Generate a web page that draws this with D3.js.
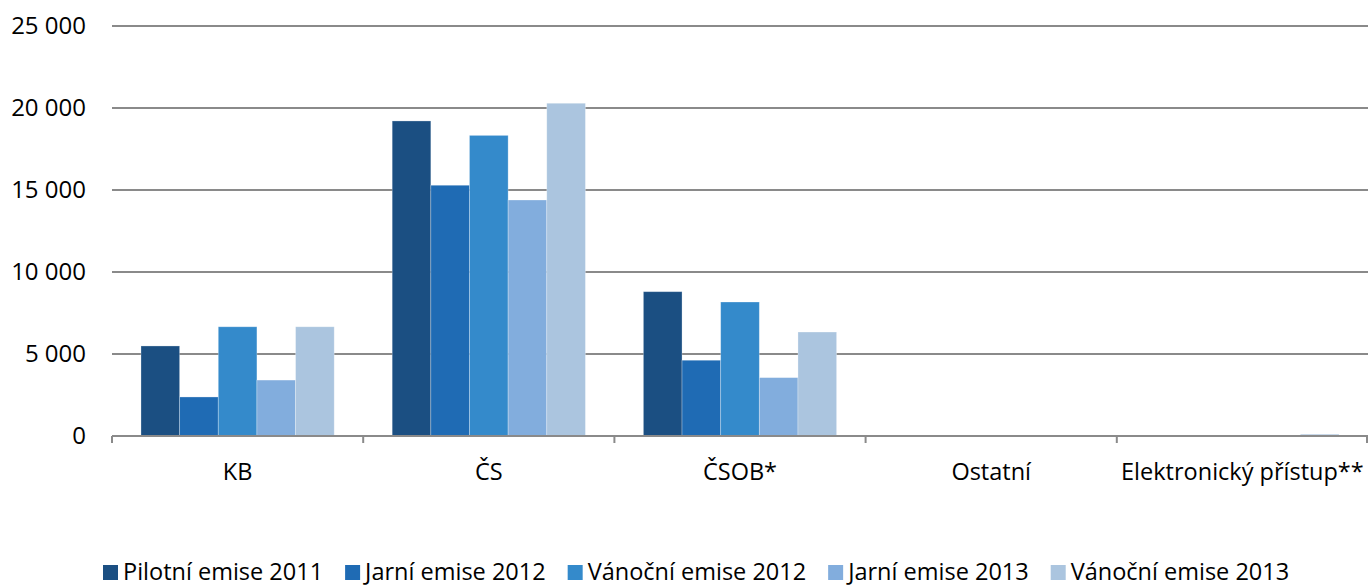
<!DOCTYPE html>
<html><head><meta charset="utf-8">
<script src="https://cdn.jsdelivr.net/npm/d3@7"></script>
<style>
body{margin:0;background:#fff;}
svg{display:block;font-family:"Open Sans",sans-serif;}
</style></head>
<body><svg id="c" width="1368" height="587"></svg>
<script>
const categories = ["KB","ČS","ČSOB*","Ostatní","Elektronický přístup**"];
const seriesNames = ["Pilotní emise 2011","Jarní emise 2012","Vánoční emise 2012","Jarní emise 2013","Vánoční emise 2013"];
const colors = ["#1B4F82","#1F6BB4","#348ACB","#82ADDD","#ABC5DF"];
const pilotni2011 = [5490, 19210, 8800, 5, 5];
const jarni2012   = [2380, 15290, 4620, 30, 5];
const vanocni2012 = [6660, 18330, 8170, 30, 5];
const jarni2013   = [3410, 14390, 3560, 5, 5];
const vanocni2013 = [6660, 20290, 6340, 5, 110];
const yTicks = [0, 5000, 10000, 15000, 20000, 25000];
const yTickLabels = ["0","5 000","10 000","15 000","20 000","25 000"];

const series = [pilotni2011, jarni2012, vanocni2012, jarni2013, vanocni2013];
const svg = d3.select("#c");
const L = 112, R = 1368, T = 26, B = 436;
const x0 = d3.scaleBand().domain(categories).range([L, R]).padding(0);
const x1 = d3.scaleBand().domain(seriesNames).range([0, x0.bandwidth()]).paddingOuter(0.75).paddingInner(0);
const y = d3.scaleLinear().domain([0, 25000]).range([B, T]);

svg.append("g").selectAll("line").data(yTicks.slice(1)).join("line")
  .attr("x1", L).attr("x2", R).attr("y1", d => y(d)).attr("y2", d => y(d))
  .attr("stroke", "#8a8a8a").attr("stroke-width", 2);

svg.append("g").selectAll("text").data(yTicks).join("text")
  .attr("x", 86).attr("y", d => y(d) + 8)
  .attr("text-anchor", "end").attr("font-size", 24).attr("fill", "#000")
  .text((d, i) => yTickLabels[i]);

const g = svg.append("g");
categories.forEach((c, ci) => {
  series.forEach((s, si) => {
    const v = s[ci];
    g.append("rect")
      .attr("x", x0(c) + x1(seriesNames[si]))
      .attr("y", y(v))
      .attr("width", x1.bandwidth())
      .attr("height", y(0) - y(v))
      .attr("fill", colors[si])
      .attr("stroke", "rgba(255,255,255,0.35)").attr("stroke-width", 0.8);
  });
});

svg.append("line").attr("x1", L).attr("x2", R).attr("y1", y(0)).attr("y2", y(0))
  .attr("stroke", "#8a8a8a").attr("stroke-width", 2);
const bounds = categories.map(c => x0(c)).concat([R - 1]);
svg.append("g").selectAll("line").data(bounds).join("line")
  .attr("x1", d => d).attr("x2", d => d).attr("y1", y(0)).attr("y2", y(0) + 7)
  .attr("stroke", "#8a8a8a").attr("stroke-width", 2);

svg.append("g").selectAll("text").data(categories).join("text")
  .attr("x", d => x0(d) + x0.bandwidth() / 2).attr("y", 480)
  .attr("text-anchor", "middle").attr("font-size", 23.5).attr("fill", "#000")
  .text(d => d);

const lg = svg.append("g");
let lx = 103;
seriesNames.forEach((n, i) => {
  lg.append("rect").attr("x", lx).attr("y", 565).attr("width", 15).attr("height", 15).attr("fill", colors[i]);
  const t = lg.append("text").attr("x", lx + 20).attr("y", 580).attr("font-size", 23.5).attr("fill", "#000").text(n);
  const w = t.node().getComputedTextLength();
  lx += 20 + w + 22;
});
</script></body></html>
